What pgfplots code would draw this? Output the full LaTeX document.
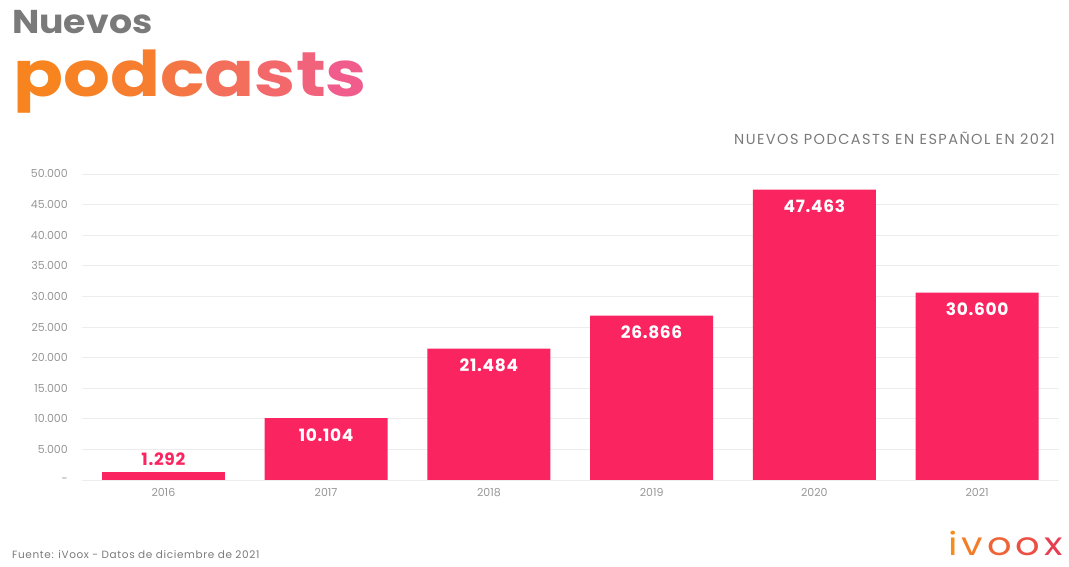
\documentclass[border=0pt]{standalone}
\usepackage{pgfplots}
\pgfplotsset{compat=1.18}
\usepackage{fontspec}
\setmainfont{Poppins}

\definecolor{barpink}{RGB}{250,36,96}
\definecolor{titlegray}{RGB}{122,122,122}
\definecolor{tickgray}{RGB}{150,150,150}
\definecolor{podA}{RGB}{247,132,30}
\definecolor{podB}{RGB}{240,92,140}
\definecolor{logoA}{RGB}{245,140,30}
\definecolor{logoB}{RGB}{232,60,80}

\newcommand{\fs}[1]{\fontsize{#1}{#1}\selectfont}
\newcommand{\ls}[1]{\addfontfeatures{LetterSpace=#1}}
\newcommand{\wide}[1]{\addfontfeatures{FakeStretch=#1}}

\begin{document}
\begin{tikzpicture}
% pixel frame: (px,py) from the top left corner of the picture
\begin{scope}[x=1pt,y=-1pt,shift={(-82pt,480pt)}]
  \path[use as bounding box] (0,0) rectangle (1069,567);
  \node[anchor=base west, inner sep=0pt, font=\bfseries\fs{33}\wide{1.1}, text=titlegray] at (12,34) {Nuevos};
  \node[anchor=base west, inner sep=0pt, font=\bfseries\fs{63}\wide{1.17}] at (13,97)
    {\textcolor{podA}{p}\textcolor{podB!6!podA}{o}\textcolor{podB!15!podA}{d}%
     \textcolor{podB!35!podA}{c}\textcolor{podB!55!podA}{a}\textcolor{podB!70!podA}{s}%
     \textcolor{podB!85!podA}{t}\textcolor{podB}{s}};
  \node[anchor=base east, inner sep=0pt, font=\fs{14.5}\ls{10}, text=titlegray] at (1055,145)
    {NUEVOS PODCASTS EN ESPAÑOL EN 2021};
  \node[anchor=base west, inner sep=0pt, font=\fs{10.5}\ls{6}, text=titlegray] at (12,559)
    {Fuente: iVoox - Datos de diciembre de 2021};
  \node[anchor=base east, inner sep=0pt, font=\fs{32}\wide{1.2}] at (1063,556)
    {\textcolor{logoA}{i}\kern4pt\textcolor{logoB!20!logoA}{v}\kern4pt\textcolor{logoB!50!logoA}{o}\kern4pt%
     \textcolor{logoB!75!logoA}{o}\kern4pt\textcolor{logoB}{x}};
\end{scope}

\begin{axis}[
    scale only axis,
    width=976.5pt, height=306pt,
    xmin=-0.5, xmax=5.5,
    ymin=0, ymax=50000,
    scaled y ticks=false,
    xtick={0,...,5},
    xticklabels={2016,2017,2018,2019,2020,2021},
    ytick={0,5000,...,50000},
    yticklabels={-,5.000,10.000,15.000,20.000,25.000,30.000,35.000,40.000,45.000,50.000},
    axis line style={draw=none},
    major tick length=0pt,
    ymajorgrids,
    grid style={draw=black!7, line width=0.8pt},
    tick label style={font=\fs{11}, text=tickgray, inner sep=0pt},
    yticklabel style={anchor=east, xshift=-14pt},
    xticklabel style={anchor=north, yshift=-8pt},
    clip=false,
]
\addplot[ybar, bar width=123pt, bar shift=0pt, fill=barpink, draw=none,
    nodes near coords={\pgfmathprintnumber[fixed,precision=0,1000 sep={.},assume math mode=true]{\pgfplotspointmeta}},
    every node near coord/.append style={anchor=north, inner sep=0pt, yshift=-10pt,
        text=white, font=\bfseries\fs{17}\ls{4}}]
    coordinates {(1,10104) (2,21484) (3,26866) (4,47463) (5,30600)};
\addplot[ybar, bar width=123pt, bar shift=0pt, fill=barpink, draw=none,
    nodes near coords={\pgfmathprintnumber[fixed,precision=0,1000 sep={.},assume math mode=true]{\pgfplotspointmeta}},
    every node near coord/.append style={anchor=south, inner sep=0pt, yshift=6pt,
        text=barpink, font=\bfseries\fs{17}\ls{4}}]
    coordinates {(0,1292)};
\end{axis}
\end{tikzpicture}
\end{document}
